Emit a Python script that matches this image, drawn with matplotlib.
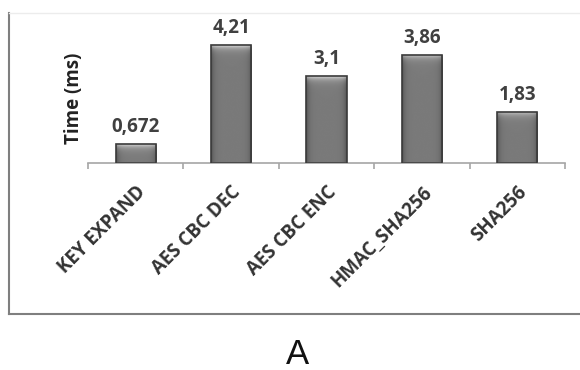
import numpy as np
import matplotlib.pyplot as plt
from matplotlib.transforms import ScaledTranslation
from matplotlib.lines import Line2D

plt.rcParams['font.family'] = ['Open Sans', 'DejaVu Sans']

categories = ["KEY EXPAND", "AES CBC DEC", "AES CBC ENC", "HMAC_SHA256", "SHA256"]
times = [0.672, 4.21, 3.1, 3.86, 1.83]
value_labels = ["0,672", "4,21", "3,1", "3,86", "1,83"]

fig = plt.figure(figsize=(5.8, 3.7), dpi=100)
ax = fig.add_axes([88/580, 1-163/370, 477/580, 140/370])
x = np.arange(len(categories))

bars = ax.bar(x, times, width=0.42, color='none', edgecolor='#3a3a3a',
              linewidth=1.2, zorder=3)

# grey bevel-ish fill for every bar
c = np.linspace(0, 1, 80)
prof = 0.48 - 0.16*np.exp(-c/0.07) - 0.16*np.exp(-(1-c)/0.07)
for b in bars:
    x0, w, h = b.get_x(), b.get_width(), b.get_height()
    yy = np.linspace(0, h, 200)
    hl = 0.38*np.exp(-(h-yy)/0.12)
    img = np.clip(prof[None, :] + hl[:, None], 0, 1)
    im = ax.imshow(img, cmap='gray', vmin=0, vmax=1, origin='lower',
                   extent=(x0, x0+w, 0, h), aspect='auto', zorder=2,
                   interpolation='bilinear')
    im.set_clip_path(b)

for xi, t, lbl in zip(x, times, value_labels):
    ax.annotate(lbl, (xi, t), xytext=(0, 5), textcoords='offset points',
                ha='center', va='bottom', fontsize=13.5, fontweight='bold',
                color='#404040')

ax.set_xlim(-0.5, 4.5)
ax.set_ylim(0, 5)
ax.set_yticks([])
for s in ['left', 'top', 'right']:
    ax.spines[s].set_visible(False)
ax.spines['bottom'].set_color('#a6a6a6')
ax.spines['bottom'].set_linewidth(1.2)
ax.set_xticks(np.arange(-0.5, 5, 1), minor=True)
ax.tick_params(axis='x', which='minor', length=4, color='#a6a6a6', width=1.2)
ax.tick_params(axis='x', which='major', length=0, pad=19)
ax.set_xticks(x, categories, rotation=45, ha='right', va='center',
              rotation_mode='anchor', fontsize=13.5, fontweight='bold',
              color='#333333')
shift = ScaledTranslation(7/100, 0, fig.dpi_scale_trans)
for lab in ax.get_xticklabels():
    lab.set_transform(lab.get_transform() + shift)

fig.text(74/580, 1-98/370, "Time (ms)", rotation=90, ha='center', va='center',
         fontsize=13.5, fontweight='bold', color='#222222')

# outer frame
fig.add_artist(Line2D([9/580, 9/580], [1-13/370, 1-314/370], color='#7f7f7f', lw=1.5))
fig.add_artist(Line2D([9/580, 1], [1-314/370, 1-314/370], color='#7f7f7f', lw=1.5))
fig.add_artist(Line2D([9/580, 1], [1-13/370, 1-13/370], color='#ececec', lw=1))

fig.text(297/580, 1-364/370, "A", ha='center', va='baseline', fontsize=25,
         family='Liberation Sans', color='#111111')

fig.savefig('out.png', dpi=100)
